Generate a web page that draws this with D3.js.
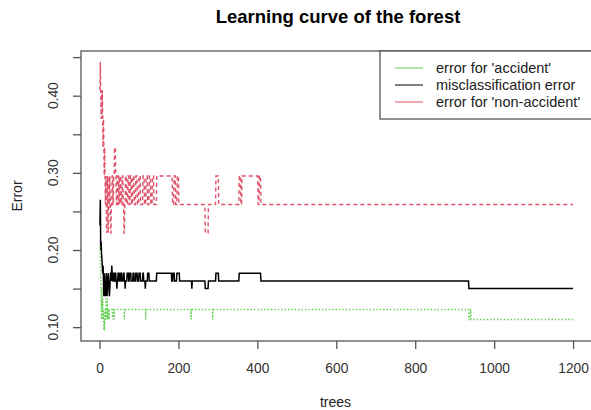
<!DOCTYPE html>
<html>
<head>
<meta charset="utf-8">
<script src="https://cdn.jsdelivr.net/npm/d3@7"></script>
<style>
  body { margin: 0; background: #fff; }
  svg { font-family: "Liberation Sans", Arial, sans-serif; }
</style>
</head>
<body>
<div id="app"></div>
<script>
// number of trees in the forest
const nTrees = 1200;

// each series is stored as change points: the tree where the error changes, and its new value
const oobTrees = [1, 2, 3, 4, 5, 6, 7, 8, 9, 10, 11, 12, 13, 14, 15, 16, 17, 18, 19, 20, 21, 22, 23, 24, 25, 26, 27, 28, 30, 31, 32, 34, 36, 38, 40, 42, 44, 45, 47, 50, 53, 56, 60, 63, 65, 66, 70, 74, 76, 80, 85, 88, 92, 96, 100, 104, 110, 112, 116, 117, 122, 126, 145, 183, 186, 190, 196, 203, 234, 235, 268, 276, 295, 302, 354, 409, 936];
const oobError = [0.232, 0.265, 0.200, 0.211, 0.196, 0.189, 0.180, 0.170, 0.180, 0.160, 0.140, 0.170, 0.150, 0.160, 0.140, 0.150, 0.170, 0.160, 0.140, 0.150, 0.160, 0.170, 0.160, 0.150, 0.140, 0.150, 0.160, 0.170, 0.160, 0.180, 0.170, 0.160, 0.170, 0.160, 0.170, 0.160, 0.150, 0.160, 0.170, 0.160, 0.170, 0.160, 0.170, 0.160, 0.150, 0.160, 0.170, 0.160, 0.170, 0.160, 0.170, 0.160, 0.170, 0.160, 0.170, 0.160, 0.170, 0.160, 0.150, 0.160, 0.170, 0.160, 0.170, 0.160, 0.170, 0.160, 0.170, 0.160, 0.150, 0.160, 0.150, 0.160, 0.170, 0.160, 0.170, 0.160, 0.150];

const accTrees = [1, 2, 3, 4, 5, 6, 7, 8, 9, 10, 11, 12, 13, 14, 15, 16, 17, 18, 19, 20, 21, 22, 24, 25, 33, 34, 37, 38, 63, 64, 117, 118, 232, 233, 287, 288, 936, 940, 942];
const accError = [0.205, 0.192, 0.164, 0.137, 0.110, 0.151, 0.123, 0.137, 0.110, 0.123, 0.096, 0.110, 0.096, 0.123, 0.110, 0.137, 0.110, 0.123, 0.110, 0.137, 0.110, 0.123, 0.110, 0.123, 0.110, 0.123, 0.110, 0.123, 0.110, 0.123, 0.110, 0.123, 0.110, 0.123, 0.110, 0.123, 0.110, 0.123, 0.110];

const nonAccTrees = [1, 2, 3, 4, 5, 6, 7, 8, 9, 10, 11, 12, 13, 14, 15, 16, 17, 18, 19, 20, 21, 22, 23, 24, 25, 26, 27, 28, 30, 32, 34, 36, 38, 41, 43, 45, 47, 49, 51, 53, 55, 58, 60, 62, 64, 66, 69, 72, 75, 78, 81, 84, 88, 92, 96, 100, 104, 110, 114, 118, 122, 126, 130, 134, 138, 145, 185, 189, 193, 197, 201, 268, 276, 295, 302, 354, 358, 361, 402, 405, 409];
const nonAccError = [0.407, 0.444, 0.407, 0.370, 0.407, 0.370, 0.407, 0.370, 0.333, 0.370, 0.333, 0.296, 0.333, 0.296, 0.259, 0.296, 0.259, 0.222, 0.259, 0.296, 0.259, 0.222, 0.259, 0.296, 0.259, 0.296, 0.259, 0.222, 0.259, 0.296, 0.259, 0.296, 0.333, 0.296, 0.259, 0.296, 0.259, 0.296, 0.259, 0.296, 0.259, 0.296, 0.259, 0.222, 0.259, 0.296, 0.259, 0.296, 0.259, 0.296, 0.259, 0.296, 0.259, 0.296, 0.259, 0.296, 0.259, 0.296, 0.259, 0.296, 0.259, 0.296, 0.259, 0.296, 0.259, 0.296, 0.259, 0.296, 0.259, 0.296, 0.259, 0.222, 0.259, 0.296, 0.259, 0.296, 0.259, 0.296, 0.259, 0.296, 0.259];

const xTicks = [0, 200, 400, 600, 800, 1000, 1200];
const yTicks = [0.10, 0.15, 0.20, 0.25, 0.30, 0.35, 0.40, 0.45];
const yLabels = [0.10, 0.20, 0.30, 0.40];

const legendLabels = ["error for 'accident'", "misclassification error", "error for 'non-accident'"];

// turn change points into one value per tree
function expand(trees, vals) {
    const out = [];
    let j = 0;
    for (let t = 1; t <= nTrees; t++) {
        while (j + 1 < trees.length && trees[j + 1] <= t) j++;
        out.push({tree: t, err: vals[j]});
    }
    return out;
}

const series = [
    {name: "oob", data: expand(oobTrees, oobError), color: "#000000", dash: null, width: 1.5},
    {name: "nonacc", data: expand(nonAccTrees, nonAccError), color: "#DF536B", dash: "4,3", width: 1.4},
    {name: "acc", data: expand(accTrees, accError), color: "#61D04F", dash: "1.4,2", width: 1.4}
];

const width = 591, height = 410;
const box = {left: 81, right: 592, top: 51, bottom: 341};

const svg = d3.select("#app")
    .append("svg")
    .attr("width", width)
    .attr("height", height);

// R style: data range padded by 4% on each side
const xPad = 0.04 * (nTrees - 1);
const x = d3.scaleLinear()
    .domain([1 - xPad, nTrees + xPad])
    .range([box.left, box.right]);

const allErr = series.flatMap(s => s.data.map(d => d.err));
const [ymin, ymax] = d3.extent(allErr);
const yPad = 0.04 * (ymax - ymin);
const y = d3.scaleLinear()
    .domain([ymin - yPad, ymax + yPad])
    .range([box.bottom, box.top]);

// lines
const line = d3.line()
    .x(d => x(d.tree))
    .y(d => y(d.err));

svg.append("g")
    .selectAll("path")
    .data(series)
    .join("path")
    .attr("d", d => line(d.data))
    .attr("fill", "none")
    .attr("stroke", d => d.color)
    .attr("stroke-width", d => d.width)
    .attr("stroke-dasharray", d => d.dash);

// plot frame
svg.append("rect")
    .attr("x", box.left)
    .attr("y", box.top)
    .attr("width", box.right - box.left)
    .attr("height", box.bottom - box.top)
    .attr("fill", "none")
    .attr("stroke", "#555")
    .attr("stroke-width", 1.3);

// x axis
const xAxis = svg.append("g")
    .attr("transform", `translate(0,${box.bottom})`)
    .call(d3.axisBottom(x).tickValues(xTicks).tickSize(8).tickPadding(14).tickFormat(d3.format("d")));
xAxis.select(".domain").remove();
xAxis.selectAll("line").attr("stroke", "#555").attr("stroke-width", 1.3);
xAxis.selectAll("text").attr("font-size", 13.8).attr("fill", "#333").attr("font-family", "Liberation Sans, Arial, sans-serif");

// y axis
const yAxis = svg.append("g")
    .attr("transform", `translate(${box.left},0)`)
    .call(d3.axisLeft(y).tickValues(yTicks).tickSize(8).tickFormat(""));
yAxis.select(".domain").remove();
yAxis.selectAll("line").attr("stroke", "#555").attr("stroke-width", 1.3);

svg.append("g")
    .selectAll("text")
    .data(yLabels)
    .join("text")
    .attr("transform", d => `translate(58,${y(d)}) rotate(-90)`)
    .attr("text-anchor", "middle")
    .attr("font-size", 13.8)
    .attr("fill", "#333")
    .text(d => d3.format(".2f")(d));

// axis titles
svg.append("text")
    .attr("x", (box.left + box.right) / 2 - 1)
    .attr("y", 407)
    .attr("text-anchor", "middle")
    .attr("font-size", 14)
    .attr("fill", "#222")
    .text("trees");

svg.append("text")
    .attr("transform", `translate(22,${(box.top + box.bottom) / 2}) rotate(-90)`)
    .attr("text-anchor", "middle")
    .attr("font-size", 14)
    .attr("fill", "#222")
    .text("Error");

// title
svg.append("text")
    .attr("x", 338)
    .attr("y", 23)
    .attr("text-anchor", "middle")
    .attr("font-size", 18.5)
    .attr("font-weight", "bold")
    .attr("fill", "#000")
    .text("Learning curve of the forest");

// legend
const legend = svg.append("g");
legend.append("rect")
    .attr("x", 380)
    .attr("y", box.top)
    .attr("width", box.right - 380)
    .attr("height", 68)
    .attr("fill", "#fff")
    .attr("stroke", "#555")
    .attr("stroke-width", 1.3);

const legendColors = ["#61D04F", "#000000", "#DF536B"];
const rows = legend.selectAll("g")
    .data(legendLabels)
    .join("g")
    .attr("transform", (d, i) => `translate(0,${68 + i * 17})`);
rows.append("line")
    .attr("x1", 395).attr("x2", 423)
    .attr("stroke", (d, i) => legendColors[i])
    .attr("stroke-width", 1);
rows.append("text")
    .attr("x", 436)
    .attr("dy", "0.35em")
    .attr("font-size", 14.5)
    .attr("fill", "#222")
    .text(d => d);
</script>
</body>
</html>
